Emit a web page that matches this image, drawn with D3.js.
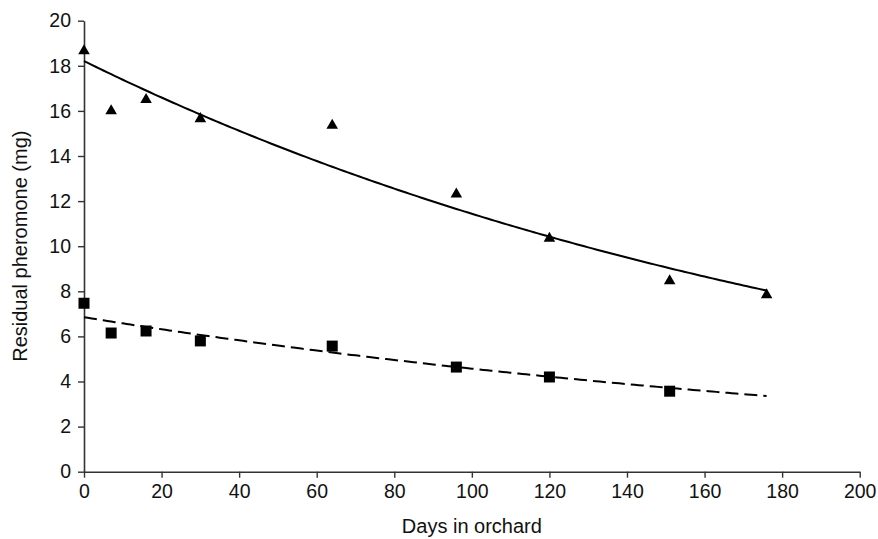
<!DOCTYPE html>
<html>
<head>
<meta charset="utf-8">
<script src="https://cdn.jsdelivr.net/npm/d3@7"></script>
<style>
  html, body { margin: 0; padding: 0; background: #fff; }
  svg { display: block; }
  text { font-family: "Liberation Sans", Arial, Helvetica, sans-serif; fill: #111; }
</style>
</head>
<body>
<svg id="chart" width="878" height="539"></svg>
<script>
// Sampling days and measured residual pheromone per dispenser type
const daysHigh = [0, 7, 16, 30, 64, 96, 120, 151, 176];
const residualHigh = [18.66, 16.0, 16.5, 15.65, 15.36, 12.31, 10.35, 8.46, 7.84];
const daysLow = [0, 7, 16, 30, 64, 96, 120, 151];
const residualLow = [7.47, 6.15, 6.24, 5.8, 5.57, 4.64, 4.2, 3.57];

// Exponential decay fits: y = a * exp(-k * day), drawn over [0, lastDay]
const fitHigh = { a: 18.21, k: 0.00465, lastDay: 176 };
const fitLow = { a: 6.85, k: 0.00405, lastDay: 176 };

const xTicks = [0, 20, 40, 60, 80, 100, 120, 140, 160, 180, 200];
const yTicks = [0, 2, 4, 6, 8, 10, 12, 14, 16, 18, 20];
const xTitle = "Days in orchard";
const yTitle = "Residual pheromone (mg)";

const svg = d3.select("#chart");
const plot = { left: 84, right: 859.7, top: 20.7, bottom: 471.7 };

const x = d3.scaleLinear().domain([0, 200]).range([plot.left, plot.right]);
const y = d3.scaleLinear().domain([0, 20]).range([plot.bottom, plot.top]);

// Axes
const xAxis = svg.append("g")
  .attr("transform", `translate(0,${plot.bottom})`)
  .call(d3.axisBottom(x).tickValues(xTicks).tickSize(6).tickSizeOuter(0).tickPadding(6));
const yAxis = svg.append("g")
  .attr("transform", `translate(${plot.left},0)`)
  .call(d3.axisLeft(y).tickValues(yTicks).tickSize(6).tickSizeOuter(0).tickPadding(7));

[xAxis, yAxis].forEach(g => {
  g.selectAll("path.domain").attr("stroke", "#333").attr("stroke-width", 1.6);
  g.selectAll(".tick line").attr("stroke", "#333").attr("stroke-width", 1.4);
  g.selectAll(".tick text").style("font-size", "19.5px")
    .style("font-family", '"Liberation Sans", Arial, sans-serif').attr("fill", "#111");
});

// Axis titles
svg.append("text")
  .attr("x", (plot.left + plot.right) / 2).attr("y", 533)
  .attr("text-anchor", "middle")
  .style("font-size", "20px")
  .text(xTitle);
svg.append("text")
  .attr("transform", `translate(27,${(plot.top + plot.bottom) / 2}) rotate(-90)`)
  .attr("text-anchor", "middle")
  .style("font-size", "20px")
  .text(yTitle);

// Fitted curves
function fitPoints(fit) {
  return d3.range(0, fit.lastDay + 0.5, 1).map(d => [d, fit.a * Math.exp(-fit.k * d)]);
}
const line = d3.line().x(d => x(d[0])).y(d => y(d[1])).curve(d3.curveLinear);

svg.append("path")
  .datum(fitPoints(fitHigh))
  .attr("d", line)
  .attr("fill", "none").attr("stroke", "#000").attr("stroke-width", 2);

svg.append("path")
  .datum(fitPoints(fitLow))
  .attr("d", line)
  .attr("fill", "none").attr("stroke", "#000").attr("stroke-width", 2)
  .attr("stroke-dasharray", "13,6");

// Markers
const triangle = d3.symbol().type(d3.symbolTriangle).size(58);
svg.append("g").selectAll("path")
  .data(daysHigh.map((d, i) => [d, residualHigh[i]]))
  .join("path")
  .attr("d", triangle)
  .attr("transform", d => `translate(${x(d[0])},${y(d[1])})`)
  .attr("fill", "#000");

const side = 11;
svg.append("g").selectAll("rect")
  .data(daysLow.map((d, i) => [d, residualLow[i]]))
  .join("rect")
  .attr("x", d => x(d[0]) - side / 2)
  .attr("y", d => y(d[1]) - side / 2)
  .attr("width", side).attr("height", side)
  .attr("fill", "#000");
</script>
</body>
</html>
